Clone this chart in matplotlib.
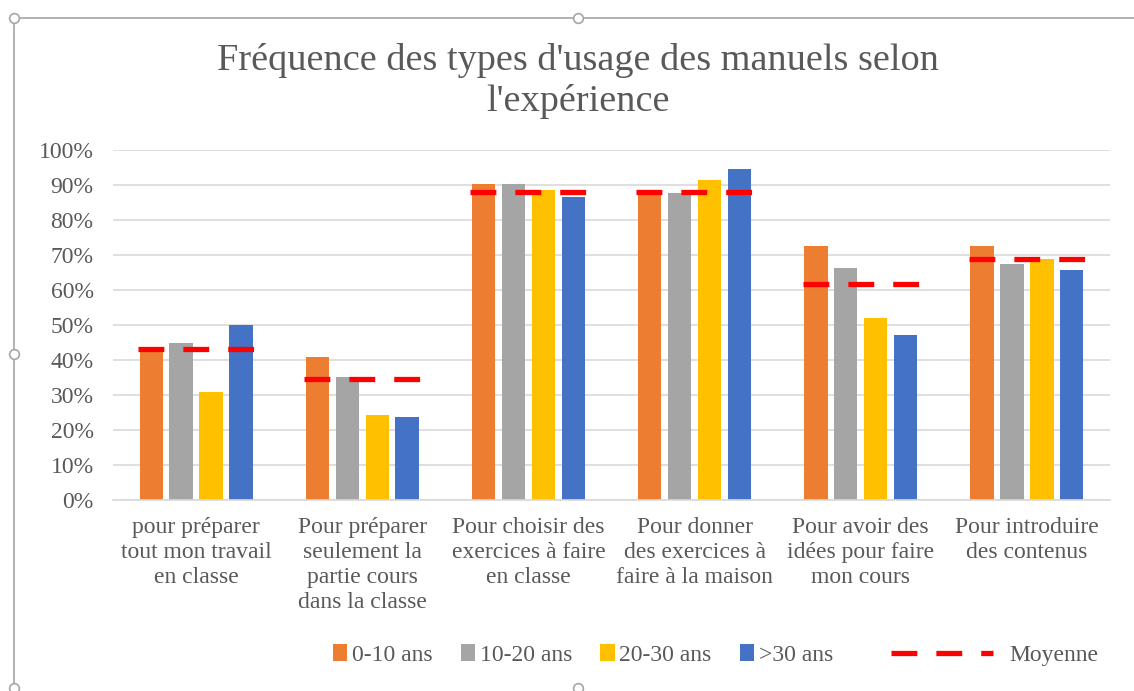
import numpy as np
import matplotlib
matplotlib.use("Agg")
import matplotlib.pyplot as plt
from matplotlib.patches import Patch
from matplotlib.lines import Line2D

#-------------------------- Data ----------------------------------
categories = ["pour préparer\ntout mon travail\nen classe",
              "Pour préparer\nseulement la\npartie cours\ndans la classe",
              "Pour choisir des\nexercices à faire\nen classe",
              "Pour donner\ndes exercices à\nfaire à la maison",
              "Pour avoir des\nidées pour faire\nmon cours",
              "Pour introduire\ndes contenus"]
groups = ["0-10 ans", "10-20 ans", "20-30 ans", ">30 ans"]

exp_0_10 = [43.0, 40.8, 90.3, 88.2, 72.6, 72.6]
exp_10_20 = [44.9, 35.2, 90.3, 87.6, 66.3, 67.3]
exp_20_30 = [30.8, 24.2, 88.6, 91.4, 52.1, 69.0]
exp_30 = [49.9, 23.6, 86.7, 94.7, 47.1, 65.7]
moyenne = [43.1, 34.5, 88.1, 88.1, 61.6, 69.0]

series = [exp_0_10, exp_10_20, exp_20_30, exp_30]
colors = ['#ED7D31', '#A5A5A5', '#FFC000', '#4472C4']
txt_col = '#595959'

plt.rcParams['font.family'] = ['Liberation Serif', 'DejaVu Serif']

fig = plt.figure(figsize=(11.34, 6.91), dpi=100)
ax = fig.add_axes([113/1134, 1-500/691, (1110-113)/1134, 350/691])

#------------------------------ bars ----------------------
ind = np.arange(len(categories))
width = 0.14
pitch = 0.18
for i, s in enumerate(series):
    ax.bar(ind + (i - 1.5)*pitch, s, width, color=colors[i], label=groups[i], zorder=2)

# mean as a dashed red segment over each group
for c, m in zip(ind, moyenne):
    ax.plot([c - 0.35, c + 0.35], [m, m], color='#FF0000', linewidth=3.8,
            dashes=(4.9, 3.6), dash_capstyle='butt', zorder=3)

ax.set_xlim(-0.5, len(categories) - 0.5)
ax.set_ylim(0, 100)
ax.set_yticks(np.arange(0, 101, 10))
ax.set_yticklabels([str(v) + '%' for v in range(0, 101, 10)], fontsize=17, color=txt_col)
ax.set_xticks(ind)
ax.set_xticklabels(categories, fontsize=17, color=txt_col, linespacing=1.25, va='top')
ax.tick_params(length=0)
ax.tick_params(axis='y', pad=14)
ax.tick_params(axis='x', pad=12)
ax.grid(axis='y', color='#D9D9D9', linewidth=1.2, zorder=0)
ax.set_axisbelow(True)
for sp in ['top', 'right', 'left']:
    ax.spines[sp].set_visible(False)
ax.spines['bottom'].set_color('#D9D9D9')
ax.spines['bottom'].set_linewidth(1.2)

#------------------------------ title ----------------------
fig.text(578/1134, 1-81/691, "Fréquence des types d'usage des manuels selon\nl'expérience",
         ha='center', va='center', fontsize=27.5, color=txt_col, linespacing=1.2)

#------------------------------ legends ----------------------
handles = [Patch(facecolor=colors[i], label=groups[i]) for i in range(4)]
leg1 = fig.legend(handles=handles, loc='center', bbox_to_anchor=(583/1134, 1-655/691),
                  ncol=4, frameon=False, fontsize=17, handlelength=0.6, handleheight=0.75,
                  handletextpad=0.2, columnspacing=1.2, labelcolor=txt_col,
                  borderaxespad=0, borderpad=0)
mline = Line2D([0], [0], color='#FF0000', linewidth=3.8, dashes=(4.9, 3.6),
               dash_capstyle='butt', label='Moyenne')
leg2 = fig.legend(handles=[mline], loc='center', bbox_to_anchor=(995/1134, 1-655/691),
                  frameon=False, fontsize=17, handlelength=4.3, handletextpad=0.7,
                  labelcolor=txt_col, borderaxespad=0, borderpad=0)

#------------------------------ selection frame of the screenshot ----------------------
fc = '#A6A6A6'
fig.add_artist(Line2D([14/1134, 1.0], [1-18/691, 1-18/691], color=fc, linewidth=1.2,
                      transform=fig.transFigure))
fig.add_artist(Line2D([14/1134, 14/1134], [1-18/691, 1-688/691], color=fc, linewidth=1.2,
                      transform=fig.transFigure))
for px, py in [(14, 18), (578, 18), (14, 354), (14, 688), (578, 688)]:
    fig.add_artist(Line2D([px/1134], [1-py/691], marker='o', markersize=7,
                          markerfacecolor='white', markeredgecolor=fc, markeredgewidth=1.2,
                          linestyle='none', transform=fig.transFigure))

plt.savefig('out.png', dpi=100)
